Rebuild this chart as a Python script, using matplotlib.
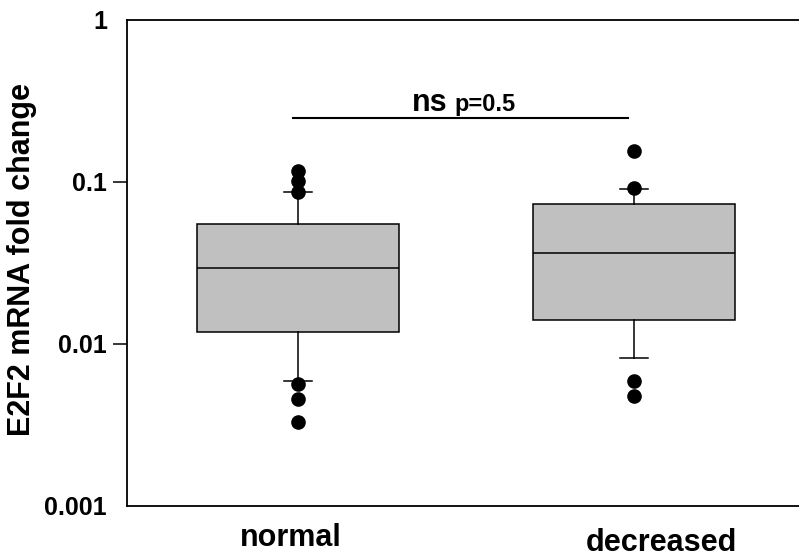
import matplotlib
matplotlib.use('Agg')
from matplotlib import pyplot as plt

plt.rcParams['font.family'] = ['Liberation Sans', 'DejaVu Sans']
plt.rcParams['font.weight'] = 'bold'

# Box statistics (fold change, log scale)
groups = ['normal', 'decreased']
q1 = [0.0119, 0.0141]
med = [0.0296, 0.0363]
q3 = [0.0550, 0.0728]
whislo = [0.0059, 0.0082]
whishi = [0.0864, 0.0909]
fliers = [
    [0.1174, 0.1019, 0.0871, 0.00564, 0.00456, 0.00331],
    [0.1547, 0.0915, 0.00594, 0.0048],
]

# significance annotation
sig_y = 0.248
sig_x = [0.986, 1.983]
sig_text = 'ns'
sig_p = 'p=0.5'

yticks = [0.001, 0.01, 0.1, 1]
yticklabels = ['0.001', '0.01', '0.1', '1']

stats = []
for i, name in enumerate(groups):
    stats.append(dict(label=name, q1=q1[i], med=med[i], q3=q3[i],
                      whislo=whislo[i], whishi=whishi[i], fliers=fliers[i]))

fig = plt.figure(figsize=(7.99, 5.58), dpi=100)
ax = fig.add_axes([0.159, 0.0932, 0.841, 0.871])

ax.bxp(stats, positions=[1, 2], widths=0.6, patch_artist=True,
       boxprops=dict(facecolor='#c0c0c0', edgecolor='black', linewidth=1.1),
       medianprops=dict(color='black', linewidth=1.1),
       whiskerprops=dict(color='black', linewidth=1.1),
       capprops=dict(color='black', linewidth=1.1),
       capwidths=0.085,
       flierprops=dict(marker='o', markerfacecolor='black', markeredgecolor='black',
                       markersize=9.5, linestyle='none'))

ax.set_yscale('log')
ax.set_ylim(0.001, 1)
ax.set_xlim(0.491, 2.491)
ax.set_yticks(yticks)
ax.set_yticklabels(yticklabels)
ax.minorticks_off()
ax.tick_params(axis='y', length=10, width=1.1, pad=4.5, labelsize=18)
for i, t in enumerate(ax.yaxis.get_major_ticks()):
    if i in (0, len(yticks) - 1):
        t.tick1line.set_visible(False)
for lbl in ax.get_yticklabels():
    lbl.set_fontweight('bold')

ax.set_xticks([])
ax.spines['right'].set_visible(False)
for s in ['left', 'top', 'bottom']:
    ax.spines[s].set_linewidth(1.3)

ax.set_ylabel('E2F2 mRNA fold change', fontsize=22, fontweight='bold')
ax.yaxis.set_label_coords(-0.134, 0.508)

# group labels (slightly staggered as in the original)
fig.text(291 / 799, 1 - 546 / 558, groups[0], ha='center', va='baseline',
         fontsize=22, fontweight='bold')
fig.text(661 / 799, 1 - 551 / 558, groups[1], ha='center', va='baseline',
         fontsize=22, fontweight='bold')

ax.plot(sig_x, [sig_y, sig_y], color='black', linewidth=1.5, clip_on=False)
ax.text(1.338, 0.274, sig_text, ha='left', va='baseline', fontsize=22, fontweight='bold')
ax.text(1.467, 0.274, sig_p, ha='left', va='baseline', fontsize=17, fontweight='bold')

fig.savefig('out.png', dpi=100)
